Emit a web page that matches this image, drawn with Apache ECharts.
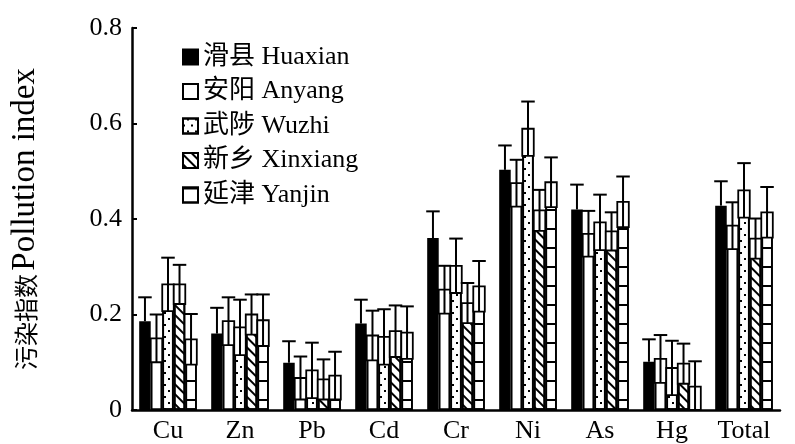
<!DOCTYPE html>
<html><head><meta charset="utf-8">
<script src="https://cdn.jsdelivr.net/npm/echarts@6/dist/echarts.min.js"></script>
<style>html,body{margin:0;padding:0;background:#fff}#c{width:795px;height:444px}</style>
</head><body><div id="c"></div>
<script>
// ---- data ----
const categories = ['Cu','Zn','Pb','Cd','Cr','Ni','As','Hg','Total'];
const seriesNames = ['滑县 Huaxian','安阳 Anyang','武陟 Wuzhi','新乡 Xinxiang','延津 Yanjin'];
const huaxian    = [0.186, 0.160, 0.099, 0.181, 0.360, 0.503, 0.420, 0.101, 0.428];
const huaxianSd  = [0.050, 0.054, 0.045, 0.050, 0.056, 0.051, 0.052, 0.047, 0.051];
const anyang     = [0.150, 0.186, 0.067, 0.156, 0.252, 0.475, 0.369, 0.107, 0.386];
const anyangSd   = [0.050, 0.050, 0.045, 0.052, 0.050, 0.049, 0.048, 0.050, 0.049];
const wuzhi      = [0.263, 0.173, 0.083, 0.153, 0.302, 0.589, 0.393, 0.088, 0.460];
const wuzhiSd    = [0.056, 0.058, 0.058, 0.058, 0.057, 0.057, 0.058, 0.057, 0.057];
const xinxiang   = [0.263, 0.200, 0.064, 0.165, 0.224, 0.418, 0.374, 0.097, 0.359];
const xinxiangSd = [0.041, 0.042, 0.042, 0.054, 0.042, 0.043, 0.040, 0.042, 0.042];
const yanjin     = [0.148, 0.188, 0.072, 0.162, 0.259, 0.477, 0.436, 0.049, 0.414];
const yanjinSd   = [0.053, 0.054, 0.050, 0.055, 0.053, 0.052, 0.053, 0.053, 0.053];
const yTicks = [0, 0.2, 0.4, 0.6, 0.8];

// ---- styling ----
const LAT = "'Liberation Serif', 'Noto Sans CJK SC', serif";
const GAP = 0.2;
const means = [huaxian, anyang, wuzhi, xinxiang, yanjin];
const sds = [huaxianSd, anyangSd, wuzhiSd, xinxiangSd, yanjinSd];
const styles = [
  {color:'#000', borderColor:'#000', borderWidth:1.5},
  {color:'#fff', borderColor:'#000', borderWidth:1.8},
  {color:'#fff', borderColor:'#000', borderWidth:1.8,
    decal:{symbol:'rect', symbolSize:1, dashArrayX:[[2,6],[0,4,2,2]], dashArrayY:[2,4], color:'#000'}},
  {color:'#fff', borderColor:'#000', borderWidth:1.8,
    decal:{symbol:'rect', symbolSize:1, dashArrayX:[1,0], dashArrayY:[2,5], rotation:Math.PI/4, color:'#000'}},
  {color:'#fff', borderColor:'#000', borderWidth:1.8,
    decal:{symbol:'rect', symbolSize:1, dashArrayX:[1,0], dashArrayY:[2,17], color:'#000'}}
];

const series = [];
means.forEach((m, i) => {
  series.push({
    type:'bar', name: seriesNames[i], data: m,
    barGap:'0%', barCategoryGap: (GAP*100)+'%',
    itemStyle: styles[i], z:2
  });
});
means.forEach((m, i) => {
  series.push({
    type:'custom', silent:true, z:3,
    data: m.map((v,k)=>[k, v, sds[i][k]]),
    encode:{x:0, y:1},
    renderItem: function(params, api){
      const k = api.value(0), v = api.value(1), s = api.value(2);
      const band = api.size([1,0])[0];
      const gw = band*(1-GAP), bw = gw/5;
      const cx = api.coord([k,0])[0] - gw/2 + bw*(i+0.5);
      const yM = api.coord([k,v])[1], yT = api.coord([k,v+s])[1], yB = api.coord([k,Math.max(0,v-s)])[1];
      const ls = {stroke:'#000', lineWidth:2};
      const ch = [];
      if (i > 0) {
        ch.push({type:'rect', shape:{x:cx-bw/2, y:yM, width:bw, height:yB-yM}, style:{fill:'#fff', stroke:'#000', lineWidth:1.8}});
        ch.push({type:'line', shape:{x1:cx, y1:yB, x2:cx, y2:yT}, style:ls});
      } else {
        ch.push({type:'line', shape:{x1:cx, y1:yM, x2:cx, y2:yT}, style:ls});
      }
      ch.push({type:'line', shape:{x1:cx-bw/2-1, y1:yT, x2:cx+bw/2+1, y2:yT}, style:ls});
      return {type:'group', children:ch};
    }
  });
});

const chart = echarts.init(document.getElementById('c'), null, {renderer:'canvas'});
chart.setOption({
  animation:false,
  backgroundColor:'#fff',
  grid:{left:132, right:15, top:28, bottom:33.5, containLabel:false},
  legend:{
    data: seriesNames, orient:'vertical', left:177, top:38,
    icon:'rect', itemWidth:15, itemHeight:15, itemGap:6.5,
    textStyle:{fontFamily:LAT, fontSize:26, color:'#000', lineHeight:28}
  },
  xAxis:{
    type:'category', data: categories,
    axisLine:{lineStyle:{color:'#000', width:2.5}},
    axisTick:{inside:true, length:5, lineStyle:{color:'#000', width:2}},
    axisLabel:{fontFamily:LAT, fontSize:26, color:'#000', margin:8}
  },
  yAxis:{
    type:'value', min:yTicks[0], max:yTicks[yTicks.length-1], interval:0.2,
    name:'{c|污染指数} {l|Pollution index}', nameLocation:'middle', nameGap:90,
    nameTextStyle:{color:'#000', rich:{c:{fontFamily:'Noto Sans CJK SC', fontSize:24, color:'#000'}, l:{fontFamily:LAT, fontSize:33, color:'#000'}}},
    axisLine:{show:true, lineStyle:{color:'#000', width:2.5}},
    axisTick:{show:true, inside:true, length:5, lineStyle:{color:'#000', width:2}},
    splitLine:{show:false},
    axisLabel:{fontFamily:LAT, fontSize:26, color:'#000', margin:10,
      formatter: v => v === 0 ? '0' : v.toFixed(1)}
  },
  series: series
});
</script></body></html>
